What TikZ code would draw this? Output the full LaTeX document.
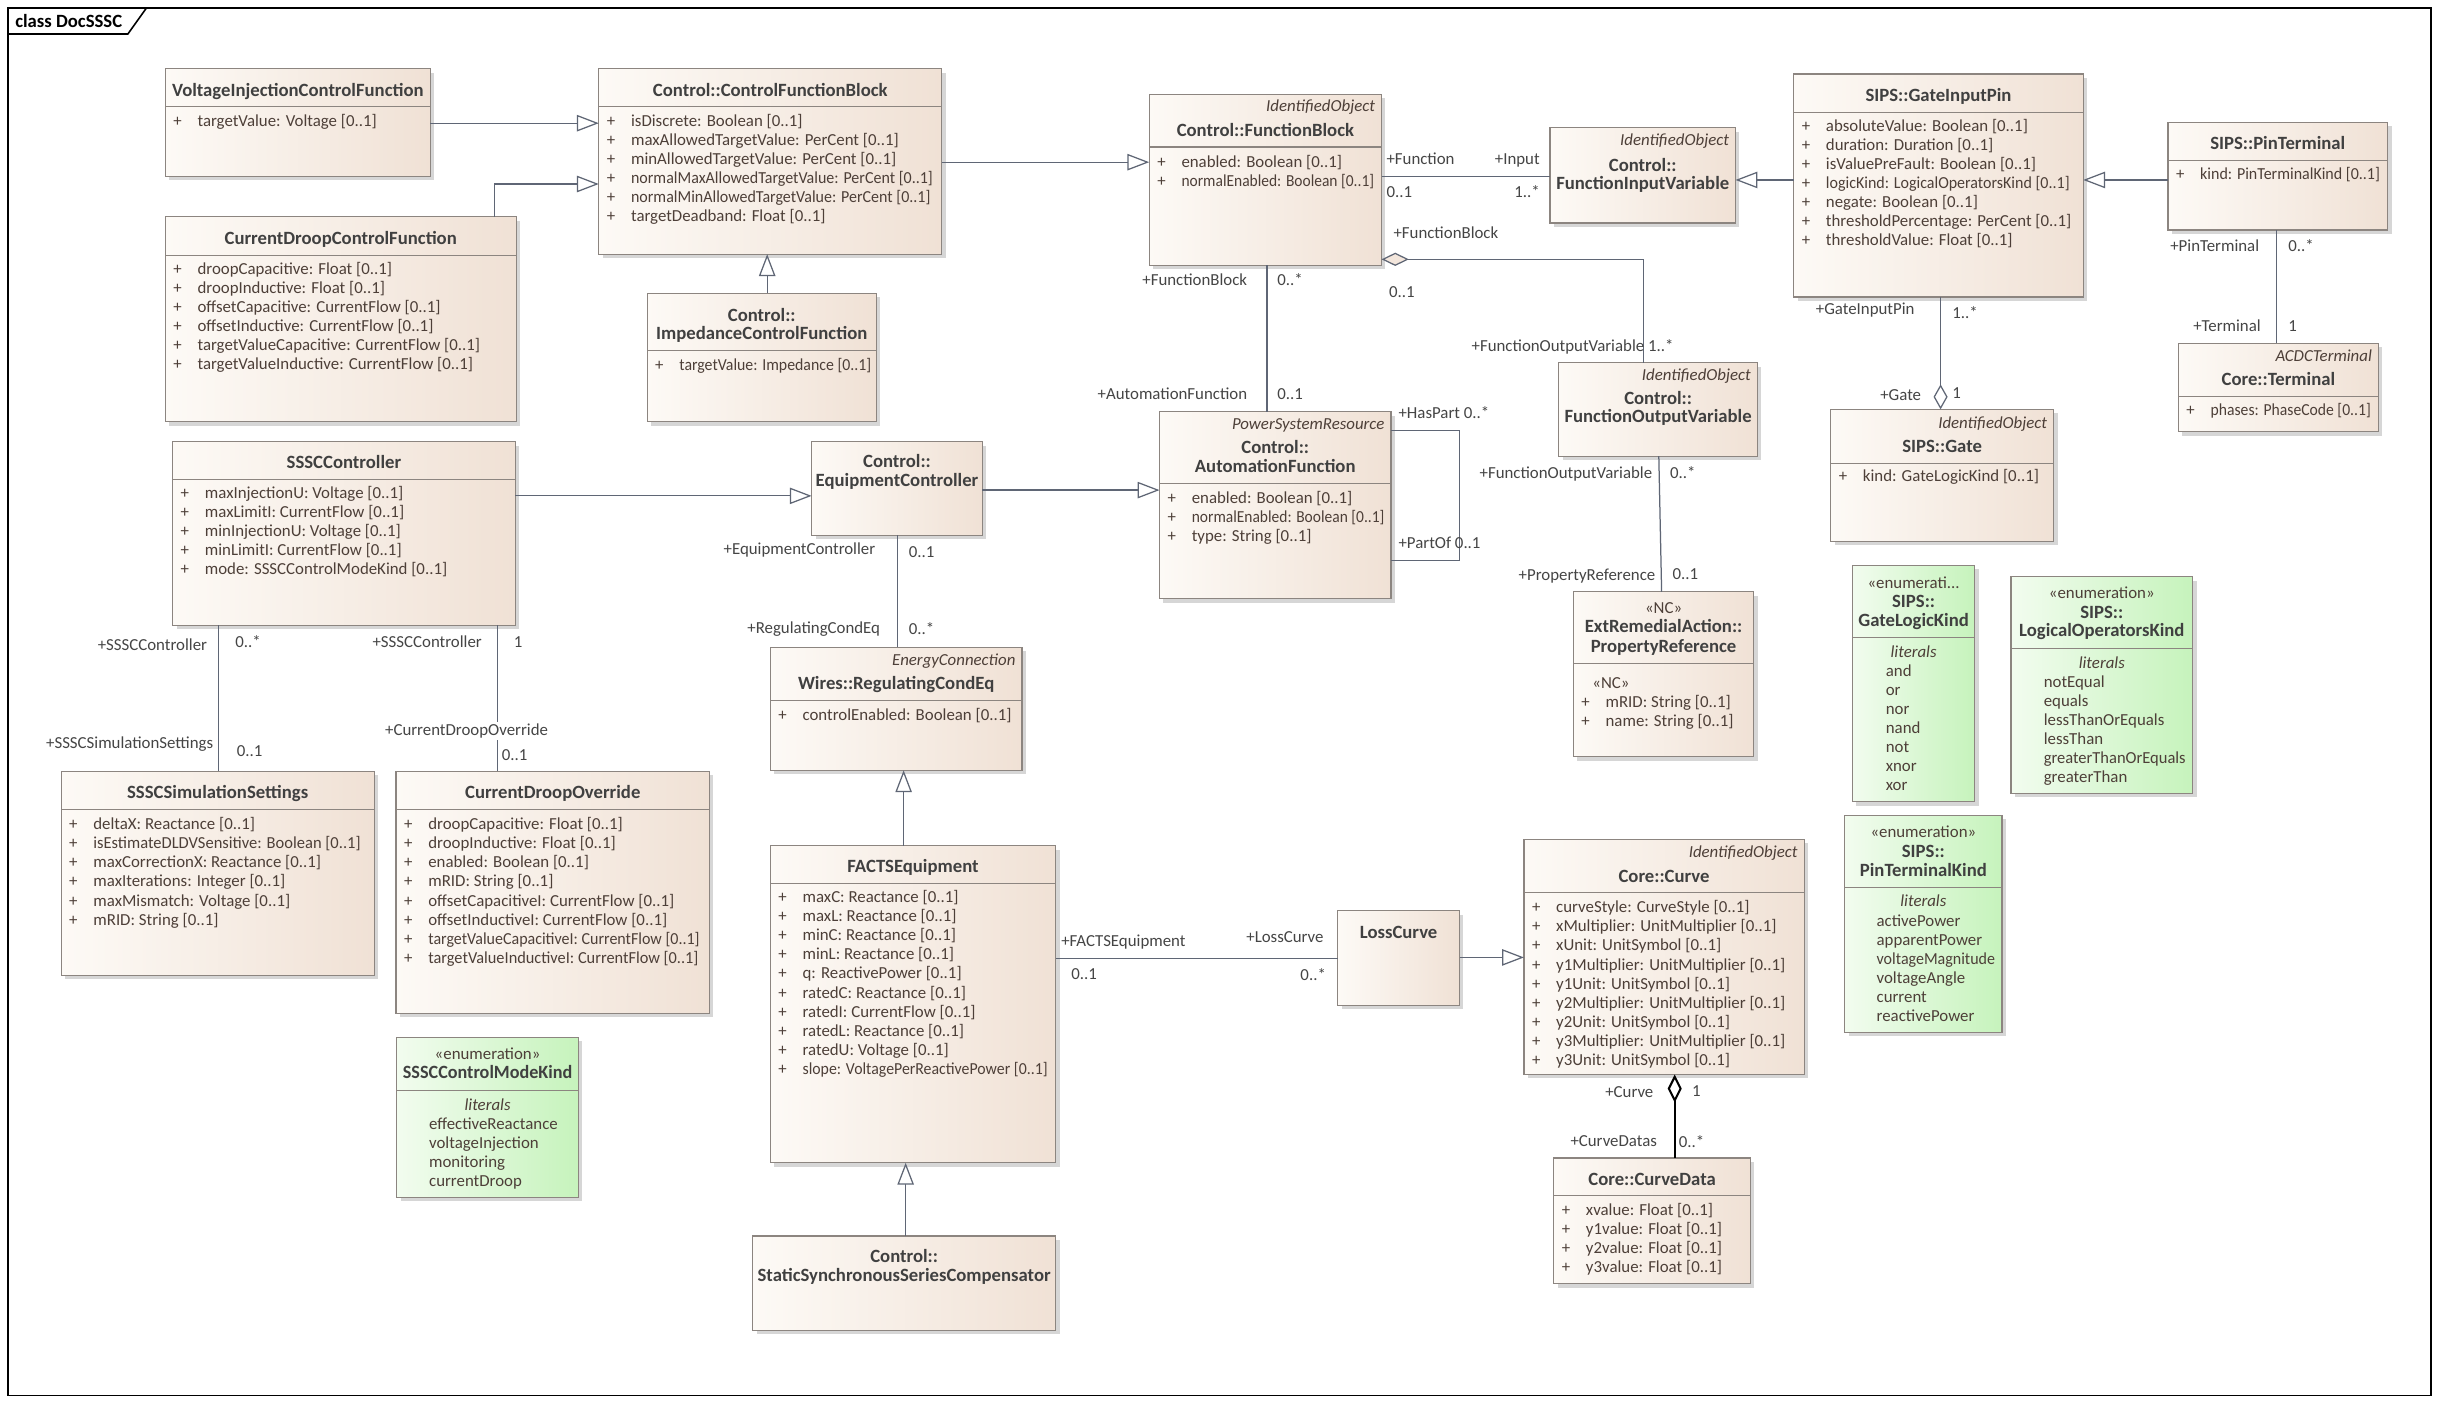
\documentclass[tikz,border=0pt]{standalone}
\usepackage{fontspec}
\usepackage{graphicx}
\setmainfont{Carlito}
\usetikzlibrary{arrows.meta,calc}
\definecolor{clsL}{HTML}{FDFAF6}
\definecolor{clsR}{HTML}{F0E1D5}
\definecolor{enmL}{HTML}{F2FCEF}
\definecolor{enmR}{HTML}{C6F3BC}
\definecolor{bordc}{HTML}{8C8580}
\definecolor{shadc}{HTML}{D6D6D6}
\definecolor{linec}{HTML}{5F6675}
\definecolor{ttlc}{HTML}{404040}
\definecolor{attc}{HTML}{4D3F38}
\definecolor{lblc}{HTML}{454545}
\definecolor{diamc}{HTML}{F3E6DC}
\newcommand\fAtt{\fontsize{10.8}{12.2}\selectfont}
\newcommand\fTtl{\fontsize{12}{13}\selectfont\bfseries}
\newcommand\sq[2]{\scalebox{#1}[1]{#2}}
\tikzset{
  cls/.style={draw=bordc, line width=0.75pt, left color=clsL, right color=clsR, inner sep=0pt, outer sep=0pt},
  enm/.style={draw=bordc, line width=0.75pt, left color=enmL, right color=enmR, inner sep=0pt, outer sep=0pt},
  bord/.style={draw=bordc, line width=0.75pt},
  ttl/.style={font=\fTtl, text=ttlc, inner sep=0pt},
  att/.style={font=\fAtt, text=attc, inner sep=0pt},
  lbl/.style={font=\fAtt, text=lblc, inner sep=0pt},
  conn/.style={draw=linec, line width=0.8pt},
  gen/.style={conn, -{Triangle[length=14pt,width=10.5pt,fill=white]}},
}
\newcommand\cbox[6]{%
  \fill[shadc] (#2+2.5,#3+2.5) rectangle (#4+2.5,#5+2.5);
  \node[#6, anchor=north west, minimum width={#4pt-#2pt}, minimum height={#5pt-#3pt}] (#1) at (#2,#3) {};
}
\newcommand\cdiv[2]{\draw[bord] (#1.west |- 0,#2) -- (#1.east |- 0,#2);}
\newcommand\ctl[4]{\node[ttl,anchor=base] (#1) at ($(#2.center |- 0,#3)+(0,3.9)$) {#4};}
\newcommand\cst[4]{\node[att,anchor=base] (#1) at ($(#2.center |- 0,#3)+(0,3.4)$) {#4};}
\newcommand\cit[4]{\node[att,font=\fAtt\itshape,anchor=base] (#1) at ($(#2.center |- 0,#3)+(0,3.4)$) {#4};}
\newcommand\rst[4]{\node[att,font=\fAtt\itshape,anchor=base east] (#1) at ($(#2.east |- 0,#3)+(-4,3.4)$) {#4};}
\newcommand\attrs[4]{\foreach \itm [count=\k from 0] in {#4} {%
  \node[att,anchor=base west] (#1p\k) at (#2+5,#3+3.4+\k*12.23) {+};
  \node[att,anchor=base west] (#1a\k) at (#2+20.5,#3+3.4+\k*12.23) {\itm};}}
\newcommand\lits[4]{\foreach \itm [count=\k from 0] in {#4} {%
  \node[att,anchor=base west] (#1l\k) at (#2,#3+3.4+\k*12.2) {\itm};}}
\newcommand\lb[5]{\node[lbl,anchor=base #2] (#1) at (#3,#4+3.4) {#5};}
\begin{document}
\begin{tikzpicture}[x=1pt,y=-1pt]
\useasboundingbox (0,0) rectangle (1568,900.4);
\fill[white] (0,0) rectangle (1568,900.4);
% frame
\draw[black, line width=1pt] (5,5) rectangle (1559,895);
\draw[black, line width=1pt] (5,21.8) -- (82,21.8) -- (94,5);
\node[font=\fTtl, text=black, inner sep=0pt, anchor=base west] (frametitle) at (9.6,17.6) {class DocSSSC};

% ---------- boxes ----------
\cbox{vicf}{106}{44}{276}{113}{cls}
\cdiv{vicf}{68.4}
\ctl{vicft}{vicf}{57.7}{VoltageInjectionControlFunction}
\attrs{vicf}{106}{77.6}{targetValue: Voltage [0..1]}

\cbox{cfb}{384}{44}{604}{163}{cls}
\cdiv{cfb}{68.4}
\ctl{cfbt}{cfb}{57.7}{Control::ControlFunctionBlock}
\attrs{cfb}{384}{77.4}{isDiscrete: Boolean [0..1], maxAllowedTargetValue: PerCent [0..1], minAllowedTargetValue: PerCent [0..1], {\sq{0.95}{normalMaxAllowedTargetValue: PerCent [0..1]}}, {\sq{0.95}{normalMinAllowedTargetValue: PerCent [0..1]}}, targetDeadband: Float [0..1]}

\cbox{cdcf}{106}{139}{331}{270.5}{cls}
\cdiv{cdcf}{163.8}
\ctl{cdcft}{cdcf}{152.6}{CurrentDroopControlFunction}
\attrs{cdcf}{106}{172.7}{droopCapacitive: Float [0..1], droopInductive: Float [0..1], offsetCapacitive: CurrentFlow [0..1], offsetInductive: CurrentFlow [0..1], targetValueCapacitive: CurrentFlow [0..1], targetValueInductive: CurrentFlow [0..1]}

\cbox{icf}{415}{188}{562}{270.5}{cls}
\cdiv{icf}{225}
\ctl{icft1}{icf}{202}{Control::}
\ctl{icft2}{icf}{214}{ImpedanceControlFunction}
\attrs{icf}{415}{234}{{\sq{0.94}{targetValue: Impedance [0..1]}}}

\cbox{fb}{737}{60.5}{886}{170}{cls}
\cdiv{fb}{94.3}
\rst{fbs}{fb}{68.4}{IdentifiedObject}
\ctl{fbt}{fb}{83.8}{Control::FunctionBlock}
\attrs{fb}{737}{104}{enabled: Boolean [0..1], {\sq{0.92}{normalEnabled: Boolean [0..1]}}}

\cbox{fiv}{994}{82}{1113}{143}{cls}
\rst{fivs}{fiv}{90}{IdentifiedObject}
\ctl{fivt1}{fiv}{105.8}{Control::}
\ctl{fivt2}{fiv}{117.8}{FunctionInputVariable}

\cbox{gip}{1150.3}{47.5}{1336}{190.5}{cls}
\cdiv{gip}{72}
\ctl{gipt}{gip}{61}{SIPS::GateInputPin}
\attrs{gip}{1150.3}{80.8}{absoluteValue: Boolean [0..1], duration: Duration [0..1], isValuePreFault: Boolean [0..1], {\sq{0.95}{logicKind: LogicalOperatorsKind [0..1]}}, negate: Boolean [0..1], thresholdPercentage: PerCent [0..1], thresholdValue: Float [0..1]}

\cbox{pt}{1390.3}{78.5}{1531.2}{147.5}{cls}
\cdiv{pt}{103}
\ctl{ptt}{pt}{92}{SIPS::PinTerminal}
\attrs{pt}{1390.3}{111.6}{{\sq{0.95}{kind: PinTerminalKind [0..1]}}}

\cbox{term}{1397}{220.2}{1525.3}{276.9}{cls}
\cdiv{term}{254.4}
\rst{terms}{term}{228.3}{ACDCTerminal}
\ctl{termt}{term}{243}{Core::Terminal}
\attrs{term}{1397}{263}{{\sq{0.93}{phases: PhaseCode [0..1]}}}

\cbox{gate}{1174}{262.5}{1317}{347}{cls}
\cdiv{gate}{297.2}
\rst{gates}{gate}{271.5}{IdentifiedObject}
\ctl{gatet}{gate}{286}{SIPS::Gate}
\attrs{gate}{1174}{305.7}{kind: GateLogicKind [0..1]}

\cbox{fov}{999.7}{232.6}{1127}{292.5}{cls}
\rst{fovs}{fov}{240.5}{IdentifiedObject}
\ctl{fovt1}{fov}{255.5}{Control::}
\ctl{fovt2}{fov}{267.2}{FunctionOutputVariable}

\cbox{pr}{1009}{379.5}{1124.7}{485.3}{cls}
\cdiv{pr}{425.5}
\cst{prs}{pr}{390.2}{«NC»}
\ctl{prt1}{pr}{402}{ExtRemedialAction::}
\ctl{prt2}{pr}{414.3}{PropertyReference}
\node[att,anchor=base west] (prnc) at (1021,441.7) {«NC»};
\attrs{pr}{1009}{450.5}{mRID: String [0..1], name: String [0..1]}

\cbox{af}{743.6}{264}{892}{384}{cls}
\cdiv{af}{310}
\rst{afs}{af}{272}{PowerSystemResource}
\ctl{aft1}{af}{286.9}{Control::}
\ctl{aft2}{af}{298.9}{AutomationFunction}
\attrs{af}{743.6}{319.4}{enabled: Boolean [0..1], {\sq{0.92}{normalEnabled: Boolean [0..1]}}, type: String [0..1]}

\cbox{ec}{520.5}{283.3}{630}{343.3}{cls}
\ctl{ect1}{ec}{296}{Control::}
\ctl{ect2}{ec}{308.3}{EquipmentController}

\cbox{sc}{110.7}{283.3}{330.4}{400.9}{cls}
\cdiv{sc}{307.4}
\ctl{sct}{sc}{296.3}{SSSCController}
\attrs{sc}{110.7}{316.2}{maxInjectionU: Voltage [0..1], maxLimitI: CurrentFlow [0..1], minInjectionU: Voltage [0..1], minLimitI: CurrentFlow [0..1], mode: SSSCControlModeKind [0..1]}

\cbox{sss}{39.2}{494.7}{240}{625.5}{cls}
\cdiv{sss}{519}
\ctl{ssst}{sss}{508}{SSSCSimulationSettings}
\attrs{sss}{39.2}{528.7}{deltaX: Reactance [0..1], {\sq{0.98}{isEstimateDLDVSensitive: Boolean [0..1]}}, maxCorrectionX: Reactance [0..1], maxIterations: Integer [0..1], maxMismatch: Voltage [0..1], mRID: String [0..1]}

\cbox{cdo}{254}{494.7}{455}{650}{cls}
\cdiv{cdo}{519}
\ctl{cdot}{cdo}{508}{CurrentDroopOverride}
\attrs{cdo}{254}{528.7}{droopCapacitive: Float [0..1], droopInductive: Float [0..1], enabled: Boolean [0..1], mRID: String [0..1], offsetCapacitiveI: CurrentFlow [0..1], offsetInductiveI: CurrentFlow [0..1], {\sq{0.95}{targetValueCapacitiveI: CurrentFlow [0..1]}}, {\sq{0.97}{targetValueInductiveI: CurrentFlow [0..1]}}}

\cbox{rce}{494}{415}{655.4}{494}{cls}
\cdiv{rce}{449.4}
\rst{rces}{rce}{423.3}{EnergyConnection}
\ctl{rcet}{rce}{438.3}{Wires::RegulatingCondEq}
\attrs{rce}{494}{458.6}{controlEnabled: Boolean [0..1]}

\cbox{facts}{494}{542.4}{677}{745.7}{cls}
\cdiv{facts}{566.5}
\ctl{factst}{facts}{555.4}{FACTSEquipment}
\attrs{facts}{494}{575.5}{maxC: Reactance [0..1], maxL: Reactance [0..1], minC: Reactance [0..1], minL: Reactance [0..1], q: ReactivePower [0..1], ratedC: Reactance [0..1], ratedI: CurrentFlow [0..1], ratedL: Reactance [0..1], ratedU: Voltage [0..1], {\sq{0.94}{slope: VoltagePerReactivePower [0..1]}}}

\cbox{sssc}{482.7}{792.6}{677}{853}{cls}
\ctl{sssct1}{sssc}{805.6}{Control::}
\ctl{sssct2}{sssc}{817.8}{StaticSynchronousSeriesCompensator}

\cbox{scmk}{254.4}{665.3}{371}{768}{enm}
\cdiv{scmk}{699.3}
\cst{scmks}{scmk}{676}{«enumeration»}
\ctl{scmkt}{scmk}{688}{\sq{0.97}{SSSCControlModeKind}}
\cit{scmki}{scmk}{708.8}{literals}
\lits{scmk}{275}{721}{effectiveReactance, voltageInjection, monitoring, currentDroop}

\cbox{lc}{857.9}{584.1}{936}{644.6}{cls}
\ctl{lct}{lc}{598}{LossCurve}

\cbox{curve}{977.3}{538.3}{1157}{689.1}{cls}
\cdiv{curve}{572.4}
\rst{curves}{curve}{546.5}{IdentifiedObject}
\ctl{curvet}{curve}{561.9}{Core::Curve}
\attrs{curve}{977.3}{582}{curveStyle: CurveStyle [0..1], xMultiplier: UnitMultiplier [0..1], xUnit: UnitSymbol [0..1], y1Multiplier: UnitMultiplier [0..1], y1Unit: UnitSymbol [0..1], y2Multiplier: UnitMultiplier [0..1], y2Unit: UnitSymbol [0..1], y3Multiplier: UnitMultiplier [0..1], y3Unit: UnitSymbol [0..1]}

\cbox{cd}{996.4}{742.6}{1122.6}{823.2}{cls}
\cdiv{cd}{766.5}
\ctl{cdt}{cd}{756.3}{Core::CurveData}
\attrs{cd}{996.4}{776.2}{xvalue: Float [0..1], y1value: Float [0..1], y2value: Float [0..1], y3value: Float [0..1]}

\cbox{glk}{1188}{362.6}{1266.4}{514.2}{enm}
\cdiv{glk}{409}
\cst{glks}{glk}{373.7}{«enumerati...}
\ctl{glkt1}{glk}{385.7}{SIPS::}
\ctl{glkt2}{glk}{397.7}{GateLogicKind}
\cit{glki}{glk}{418.2}{literals}
\lits{glk}{1209.2}{430.4}{and, or, nor, nand, not, xnor, xor}

\cbox{lok}{1289.6}{369.9}{1406.2}{508.8}{enm}
\cdiv{lok}{415.8}
\cst{loks}{lok}{380.6}{«enumeration»}
\ctl{lokt1}{lok}{392.5}{SIPS::}
\ctl{lokt2}{lok}{404.5}{LogicalOperatorsKind}
\cit{loki}{lok}{425}{literals}
\lits{lok}{1310.5}{437.7}{notEqual, equals, lessThanOrEquals, lessThan, {\sq{0.98}{greaterThanOrEquals}}, greaterThan}

\cbox{ptk}{1183}{523}{1283.9}{662.2}{enm}
\cdiv{ptk}{569.2}
\cst{ptks}{ptk}{533.9}{«enumeration»}
\ctl{ptkt1}{ptk}{545.9}{SIPS::}
\ctl{ptkt2}{ptk}{558}{PinTerminalKind}
\cit{ptki}{ptk}{577.7}{literals}
\lits{ptk}{1203.3}{590.8}{activePower, apparentPower, {\sq{0.95}{voltageMagnitude}}, voltageAngle, current, reactivePower}

% ---------- connectors ----------
\draw[gen] (vicf.east |- 0,79) -- (cfb.west |- 0,79);
\draw[gen] (cdcf.north -| 317,0) |- (cfb.west |- 0,118);
\draw[gen] (icf.north -| 492,0) -- (cfb.south -| 492,0);
\draw[gen] (cfb.east |- 0,104) -- (fb.west |- 0,104);
\draw[conn] (fb.east |- 0,113.3) -- (fiv.west |- 0,113.3);
\draw[gen] (gip.west |- 0,115.4) -- (fiv.east |- 0,115.4);
\draw[gen] (pt.west |- 0,115.4) -- (gip.east |- 0,115.4);
\draw[conn] (pt.south -| 1460,0) -- (term.north -| 1460,0);
\draw[conn, {Diamond[length=16pt,width=9pt,fill=white]}-] (gate.north -| 1244.5,0) -- (gip.south -| 1244.5,0);
\draw[conn, {Diamond[length=17.5pt,width=8.5pt,fill=diamc]}-] (fb.east |- 0,166.3) -| (fov.north -| 1054,0);
\draw[conn] (fb.south -| 812.5,0) -- (af.north -| 812.5,0);
\coordinate (hasp) at (936,276);
\draw[conn] (af.east |- 0,276) -- (hasp) |- (af.east |- 0,359.4);
\draw[gen] (ec.east |- 0,314.3) -- (af.west |- 0,314.3);
\draw[gen] (sc.east |- 0,318) -- (ec.west |- 0,318);
\draw[conn] (ec.south -| 575.5,0) -- (rce.north -| 575.5,0);
\draw[gen] (facts.north -| 579.5,0) -- (rce.south -| 579.5,0);
\draw[gen] (sssc.north -| 580.8,0) -- (facts.south -| 580.8,0);
\draw[conn] (sc.south -| 140.2,0) -- (sss.north -| 140.2,0);
\draw[conn] (sc.south -| 319,0) -- (cdo.north -| 319,0);
\draw[conn] (fov.south -| 1063.8,0) -- (pr.north -| 1065.6,0);
\draw[conn] (facts.east |- 0,614.7) -- (lc.west |- 0,614.7);
\draw[gen] (lc.east |- 0,614) -- (curve.west |- 0,614);
\draw[black, line width=1.3pt, {Diamond[length=18pt,width=9pt,fill=white]}-] (curve.south -| 1074,0) -- (cd.north -| 1074,0);

% ---------- labels ----------
\lb{l1}{west}{889}{102}{+Function}
\lb{l2}{east}{987.6}{102}{+Input}
\lb{l3}{west}{889}{123.4}{0..1}
\lb{l4}{east}{987.6}{123}{1..*}
\lb{l5}{west}{893.5}{149.4}{+FunctionBlock}
\lb{l6}{west}{890.6}{187.5}{0..1}
\lb{l7}{west}{943.6}{222}{+FunctionOutputVariable 1..*}
\lb{l8}{east}{800}{180}{+FunctionBlock}
\lb{l9}{west}{819}{180}{0..*}
\lb{l10}{east}{800}{253}{+AutomationFunction}
\lb{l11}{west}{819}{253}{0..1}
\lb{l12}{west}{896.7}{265}{+HasPart 0..*}
\lb{l13}{west}{896.7}{348.5}{+PartOf 0..1}
\lb{l14}{east}{1228}{198.2}{+GateInputPin}
\lb{l15}{west}{1251.8}{201}{1..*}
\lb{l16}{east}{1232.2}{253.4}{+Gate}
\lb{l17}{west}{1251.8}{252.3}{1}
\lb{l18}{east}{1449}{157.8}{+PinTerminal}
\lb{l19}{west}{1467.3}{157.8}{0..*}
\lb{l20}{east}{1450}{209}{+Terminal}
\lb{l21}{west}{1467.3}{209}{1}
\lb{l22}{east}{1059.8}{303.2}{+FunctionOutputVariable}
\lb{l23}{west}{1070.9}{303.2}{0..*}
\lb{l24}{east}{1061.7}{368.8}{+PropertyReference}
\lb{l25}{west}{1072.4}{368.2}{0..1}
\lb{l26}{east}{561.5}{352.3}{+EquipmentController}
\lb{l27}{west}{582.6}{354}{0..1}
\lb{l28}{east}{564.6}{402.6}{+RegulatingCondEq}
\lb{l29}{west}{582.6}{403.5}{0..*}
\lb{l30}{east}{133}{413.7}{+SSSCController}
\lb{l31}{west}{150.8}{411.6}{0..*}
\lb{l32}{east}{137}{476.8}{+SSSCSimulationSettings}
\lb{l33}{west}{151.7}{481.7}{0..1}
\lb{l34}{east}{309.2}{412}{+SSSCController}
\lb{l35}{west}{329.3}{412}{1}
\node[lbl, fill=white, inner sep=1pt, anchor=base west] (l36) at (245.8,471.6) {+CurrentDroopOverride};
\lb{l37}{west}{321.6}{484.3}{0..1}
\lb{l38}{west}{680.4}{603.6}{+FACTSEquipment}
\lb{l39}{west}{686.8}{625}{0..1}
\lb{l40}{east}{849}{601}{+LossCurve}
\lb{l41}{east}{850.5}{625.6}{0..*}
\lb{l42}{east}{1060.5}{700.2}{+Curve}
\lb{l43}{west}{1085}{700}{1}
\lb{l44}{east}{1062.8}{731.6}{+CurveDatas}
\lb{l45}{west}{1076.4}{732.3}{0..*}
\end{tikzpicture}
\end{document}
